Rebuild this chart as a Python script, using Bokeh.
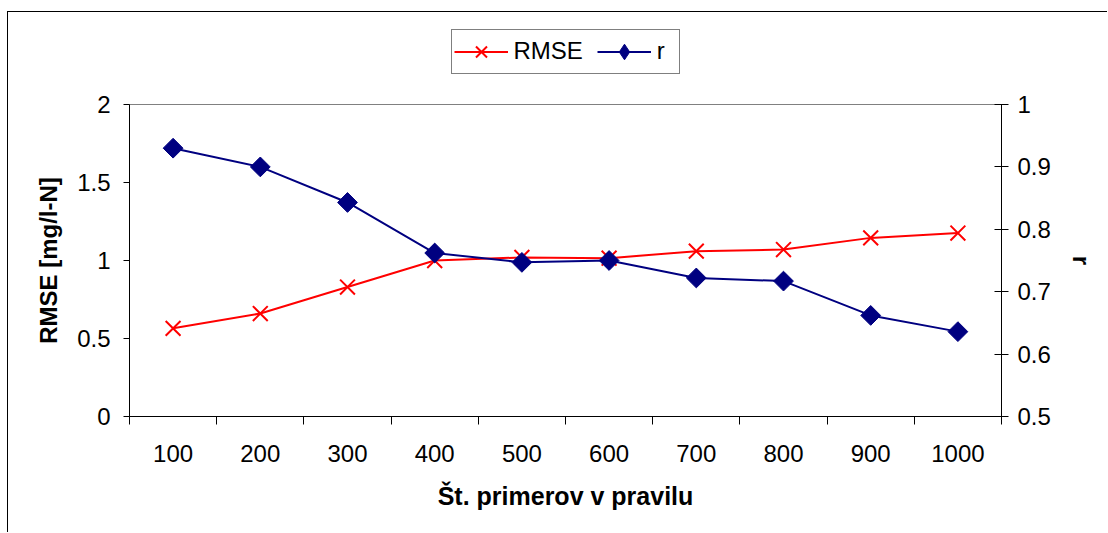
import math
from bokeh.plotting import figure
from bokeh.layouts import column
from bokeh.models import (Range1d, LinearAxis, FixedTicker, Legend, LegendItem,
                          InlineStyleSheet)
from bokeh.embed import file_html
from bokeh.resources import INLINE

# ---- data ----
primeri = [100, 200, 300, 400, 500, 600, 700, 800, 900, 1000]
rmse = [0.565, 0.66, 0.83, 1.0, 1.02, 1.015, 1.06, 1.07, 1.145, 1.176]
r_vals = [0.930, 0.900, 0.843, 0.762, 0.747, 0.750, 0.722, 0.717, 0.662, 0.636]
left_ticks = [0, 0.5, 1, 1.5, 2]
right_ticks = [0.5, 0.6, 0.7, 0.8, 0.9, 1.0]
x_label = "Št. primerov v pravilu"
y_label = "RMSE [mg/l-N]"
y2_label = "r"

FONT = "Liberation Sans"
FS = "24px"

RED = "#FF0000"
NAVY = "#000080"

# ---------------- main chart ----------------
p = figure(width=1099, height=448, output_backend="svg", toolbar_location=None,
           x_range=Range1d(50, 1050), y_range=Range1d(0, 2),
           min_border_left=121, min_border_right=106, min_border_top=20,
           min_border_bottom=116, background_fill_color="white",
           border_fill_color="white")
p.xgrid.visible = False
p.ygrid.visible = False
p.outline_line_color = "#808080"
p.outline_line_width = 1

p.extra_y_ranges = {"r": Range1d(0.5, 1.0)}

def style_axis(ax):
    ax.axis_line_color = "black"
    ax.major_tick_line_color = "black"
    ax.minor_tick_line_color = "black"
    ax.major_label_text_font = FONT
    ax.major_label_text_font_size = FS
    ax.major_label_text_color = "black"
    ax.axis_label_text_font = FONT
    ax.axis_label_text_font_style = "bold"
    ax.axis_label_text_font_size = FS
    ax.axis_label_text_color = "black"

# x axis
xa = p.xaxis[0]
style_axis(xa)
xa.ticker = FixedTicker(ticks=primeri, minor_ticks=[v - 50 for v in primeri] + [1050])
xa.major_tick_out = 0
xa.major_tick_in = 0
xa.minor_tick_out = 8
xa.minor_tick_in = 0
xa.major_label_standoff = 20
xa.axis_label = x_label
xa.axis_label_text_font_size = "25px"
xa.axis_label_standoff = 17

# left axis
ya = p.yaxis[0]
style_axis(ya)
ya.ticker = FixedTicker(ticks=left_ticks, minor_ticks=[])
ya.major_label_overrides = {0: "0", 0.5: "0.5", 1: "1", 1.5: "1.5", 2: "2"}
ya.major_tick_out = 6
ya.major_tick_in = 0
ya.major_label_standoff = 13
ya.axis_label = y_label
ya.axis_label_standoff = 12

# right axis
ra = LinearAxis(y_range_name="r",
                ticker=FixedTicker(ticks=right_ticks, minor_ticks=[]))
style_axis(ra)
ra.major_label_overrides = {0.5: "0.5", 0.6: "0.6", 0.7: "0.7", 0.8: "0.8",
                            0.9: "0.9", 1.0: "1"}
ra.major_tick_out = 7
ra.major_tick_in = 7
ra.major_label_standoff = 9
ra.axis_label = y2_label
ra.axis_label_standoff = 14
p.add_layout(ra, "right")

# series
p.line(primeri, rmse, line_color=RED, line_width=2)
p.scatter(primeri, rmse, marker="x", size=21, line_color=RED, line_width=2)
p.line(primeri, r_vals, line_color=NAVY, line_width=2, y_range_name="r")
p.scatter(primeri, r_vals, marker="square", size=14, angle=math.pi / 4,
          fill_color=NAVY, line_color=NAVY, y_range_name="r")

# ---------------- legend strip above the chart ----------------
lg = figure(width=1099, height=72, output_backend="svg", toolbar_location=None,
            x_range=Range1d(0, 1), y_range=Range1d(0, 1),
            x_axis_type=None, y_axis_type=None, min_border=0,
            background_fill_color="white", border_fill_color="white")
lg.outline_line_color = None
lg.xgrid.visible = False
lg.ygrid.visible = False
# key renderers (data falls outside this strip's ranges, only the key shows)
k1l = lg.line(primeri, rmse, line_color=RED, line_width=2)
k1m = lg.scatter(primeri, rmse, marker="x", line_color=RED, line_width=2)
k2l = lg.line(primeri, r_vals, line_color=NAVY, line_width=2)
k2m = lg.scatter(primeri, r_vals, marker="diamond", fill_color=NAVY,
                 line_color=NAVY)

legend = Legend(items=[LegendItem(label="RMSE", renderers=[k1l, k1m]),
                       LegendItem(label="r", renderers=[k2l, k2m])],
                orientation="horizontal", location=(321.5, 10.5))
legend.label_text_font = FONT
legend.label_text_font_size = FS
legend.label_text_color = "black"
legend.glyph_width = 54
legend.glyph_height = 39
legend.label_standoff = 6
legend.spacing = 14
legend.padding = 2
legend.margin = 0
legend.border_line_color = "black"
legend.border_line_width = 1
legend.background_fill_alpha = 1
lg.add_layout(legend, "center")

layout = column(lg, p, spacing=0)
layout.margin = (11, 0, 0, 7)
layout.stylesheets = [InlineStyleSheet(
    css=":host { border-top: 1.5px solid black; border-left: 1.5px solid black; }")]

open("out.html", "w").write(file_html(layout, INLINE))
